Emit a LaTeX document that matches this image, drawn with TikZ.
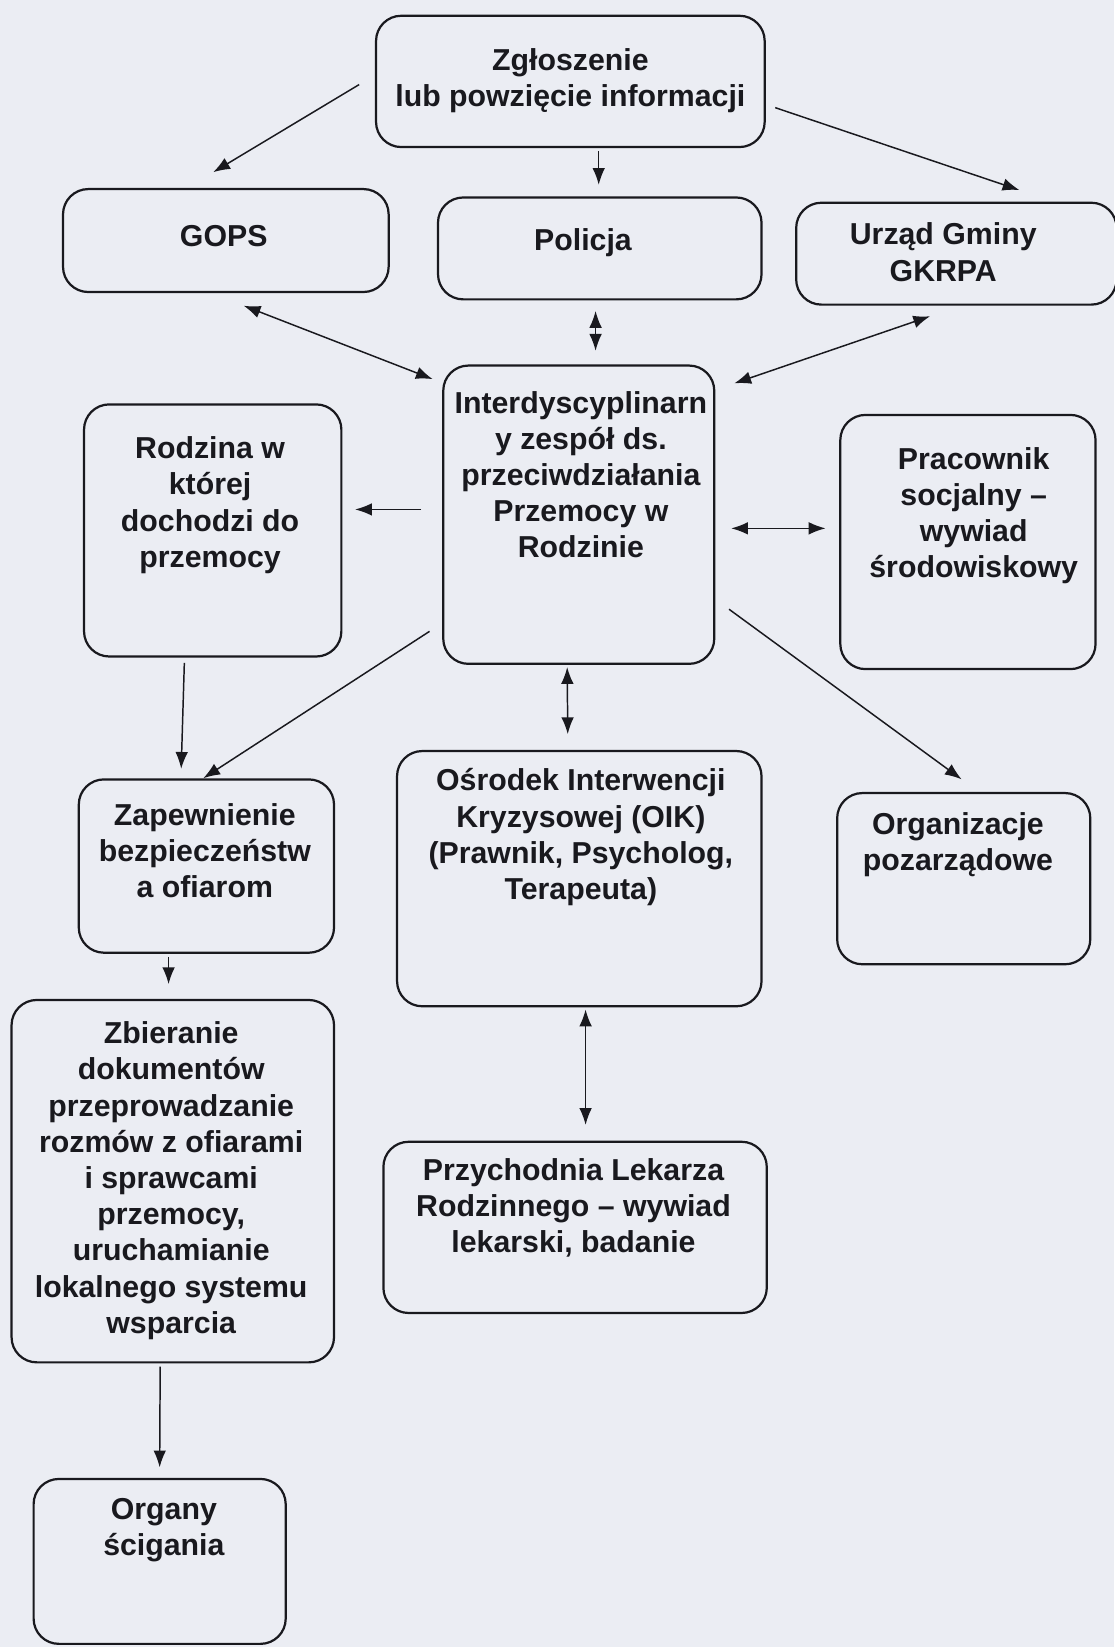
\documentclass[tikz,border=0pt]{standalone}
\usepackage{fontspec}
\setmainfont{Liberation Sans}
\usepackage{xcolor}
\usetikzlibrary{fit,calc,arrows.meta}
\definecolor{paper}{RGB}{235,237,243}
\definecolor{ink}{RGB}{25,25,30}
\begin{document}
\begin{tikzpicture}[x=0.025cm,y=-0.025cm,>={Latex[length=4mm,width=3mm]},
  box/.style={draw=ink,rounded corners=0.6cm,inner sep=0pt,line width=1.5pt},
  txt/.style={text=ink,align=center,font=\bfseries\fontsize{20.5}{24.5}\selectfont},
  pil/.style={draw=ink,line width=1pt}]
\fill[paper] (0,0) rectangle (1061,1568);
\useasboundingbox (0,0) rectangle (1061,1568);
%\draw[help lines,yellow,thin] (0,0) grid[step=100] (1061,1568);
\node [box,fit={(358,15) (728,140)}] (zgl) {};
\node [box,fit={(60,180) (370,278)}] (gops) {};
\node [box,fit={(417,188) (725,285)}] (pol) {};
\node [box,fit={(758,193) (1063,290)}] (urz) {};
\node [box,fit={(422,348) (680,632)}] (iz) {};
\node [box,fit={(80,385) (325,625)}] (rodz) {};
\node [box,fit={(800,395) (1043,637)}] (prac) {};
\node [box,fit={(75,742) (318,907)}] (zap) {};
\node [box,fit={(378,715) (725,958)}] (oik) {};
\node [box,fit={(797,755) (1038,918)}] (org) {};
\node [box,fit={(11,952) (318,1297)}] (zbi) {};
\node [box,fit={(365,1087) (730,1250)}] (przy) {};
\node [box,fit={(32,1408) (272,1565)}] (organy) {};
\node [txt] (zglt) at (543,77) {Zgłoszenie\\lub powzięcie informacji};
\node [txt] (gopst) at (213,225) {GOPS};
\node [txt] (polt) at (555,231) {Policja};
\node [txt] (urzt) at (898,240) {Urząd Gminy\\GKRPA};
\node [txt] (izt) at (553,452) {Interdyscyplinarn\\y zespół ds.\\przeciwdziałania\\Przemocy w\\Rodzinie};
\node [txt] (rodzt) at (200,481) {Rodzina w\\której\\dochodzi do\\przemocy};
\node [txt] (pract) at (927,491) {Pracownik\\socjalny –\\wywiad\\środowiskowy};
\node [txt] (zapt) at (195,810) {Zapewnienie\\bezpieczeństw\\a ofiarom};
\node [txt] (oikt) at (553,797) {Ośrodek Interwencji\\Kryzysowej (OIK)\\(Prawnik, Psycholog,\\Terapeuta)};
\node [txt] (orgt) at (912,804) {Organizacje\\pozarządowe};
\node [txt] (zbit) at (163,1124) {Zbieranie\\dokumentów\\przeprowadzanie\\rozmów z ofiarami\\i sprawcami\\przemocy,\\uruchamianie\\lokalnego systemu\\wsparcia};
\node [txt] (przyt) at (546,1150) {Przychodnia Lekarza\\Rodzinnego – wywiad\\lekarski, badanie};
\node [txt] (organyt) at (156,1457) {Organy\\ścigania};
% strzalki
\draw [pil,->] ($(zgl.west)+(-15,3)$) -- ($(gops.north)+(-12,-15)$);
\draw [pil,->] ($(zgl.south -| pol.north)+(-1,3)$) -- ($(pol.north)+(-1,-11)$);
\draw [pil,->] ($(zgl.east)+(9,25)$) -- ($(urz.north)+(60,-11)$);
\draw [pil,<->] ($(gops.south)+(17,12)$) -- ($(iz.north west)+(-9,14)$);
\draw [pil,<->] ($(pol.south)+(-4,10)$) -- ($(iz.north)+(16,-13)$);
\draw [pil,<->] ($(urz.south)+(-25,10)$) -- ($(iz.north east)+(18,18)$);
\draw [pil,->] ($(iz.west)+(-20,-5)$) -- ($(rodz.east)+(12,-20)$);
\draw [pil,<->] ($(iz.east)+(15,13)$) -- ($(prac.west)+(-13,-13)$);
\draw [pil,->] ($(rodz.south)+(-27,5)$) -- ($(zap.north)+(-24,-9)$);
\draw [pil,->] ($(iz.south west)+(-12,-32)$) -- ($(zap.north)+(-3,0)$);
\draw [pil,<->] ($(iz.south)+(-11,2)$) -- ($(oik.north)+(-11,-15)$);
\draw [pil,->] ($(iz.east)+(13,90)$) -- ($(org.north)+(-2,-12)$);
\draw [pil,->] ($(zap.south)+(-36,3)$) -- ($(zbi.north)+(-4,-14)$);
\draw [pil,<->] ($(oik.south)+(6,2)$) -- ($(przy.north)+(10,-15)$);
\draw [pil,->] ($(zbi.south)+(-12,3)$) -- ($(organy.north)+(0,-10)$);
\end{tikzpicture}
\end{document}
